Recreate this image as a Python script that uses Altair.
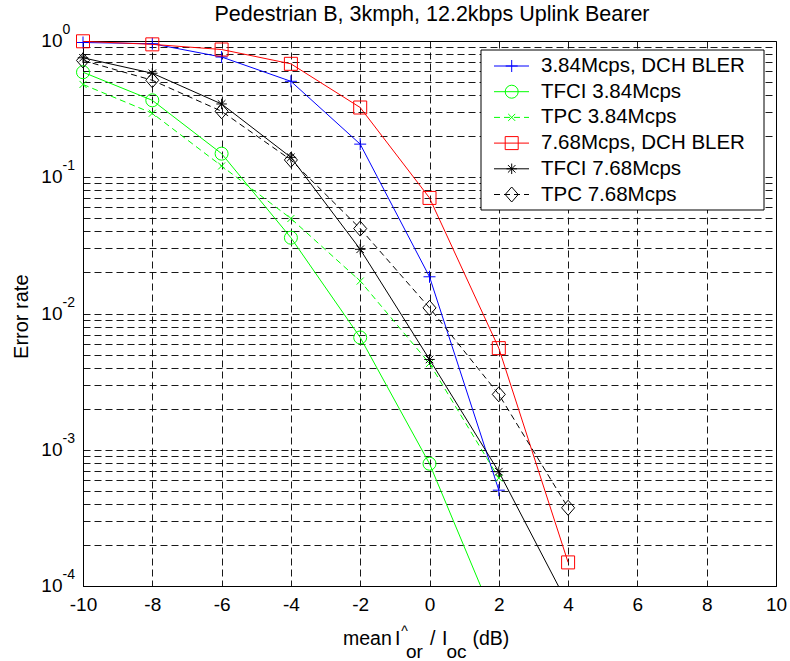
import altair as alt
import pandas as pd

# ---------------- data ----------------
snr_db = [-10, -8, -6, -4, -2, 0, 2, 4]
dch_384 = [0.975, 0.955, 0.763, 0.506, 0.175, 0.0186, 5.05e-4]
tfci_384 = [0.59, 0.367, 0.149, 0.036, 0.00667, 7.9e-4, 4.8e-5]
tpc_384 = [0.48, 0.295, 0.121, 0.0498, 0.0173, 0.0043, 6.2e-4]
dch_768 = [0.995, 0.945, 0.866, 0.68, 0.325, 0.0705, 0.00557, 1.49e-4]
tfci_768 = [0.753, 0.58, 0.345, 0.14, 0.0296, 0.0046, 6.9e-4, 7.3e-5]
tpc_768 = [0.72, 0.515, 0.305, 0.134, 0.042, 0.011, 0.00255, 3.75e-4]

series_labels = ["3.84Mcps, DCH BLER", "TFCI 3.84Mcps", "TPC 3.84Mcps",
                 "7.68Mcps, DCH BLER", "TFCI 7.68Mcps", "TPC 7.68Mcps"]
x_ticks = [-10, -8, -6, -4, -2, 0, 2, 4, 6, 8, 10]
y_decades = [0, -1, -2, -3, -4]
title_text = "Pedestrian B, 3kmph, 12.2kbps Uplink Bearer"
y_title = "Error rate"

# ---------------- styles ----------------
FONT = "Liberation Sans"
W, H = 693, 545
PLUS = "M-1,0L1,0M0,-1L0,1"
XMARK = "M-1,-1L1,1M-1,1L1,-1"
STAR = "M-1,0L1,0M0,-1L0,1M-0.72,-0.72L0.72,0.72M-0.72,0.72L0.72,-0.72"
DIAMOND = "M0,-1L0.87,0L0,1L-0.87,0Z"
DASH = [6, 4]
GRID_DASH = [7, 4]

all_series = [dch_384, tfci_384, tpc_384, dch_768, tfci_768, tpc_768]
styles = [
    dict(color="#0000ff", dash=None, shape=PLUS, size=144),
    dict(color="#00ff00", dash=None, shape="circle", size=169),
    dict(color="#00ff00", dash=DASH, shape=XMARK, size=49),
    dict(color="#ff0000", dash=None, shape="square", size=169),
    dict(color="#000000", dash=None, shape=STAR, size=110),
    dict(color="#000000", dash=DASH, shape=DIAMOND, size=225),
]

grid_vals = [1.0]
for d in [-1, -2, -3, -4]:
    for k in range(1, 10):
        grid_vals.append(k * 10.0 ** d)

xs = alt.Scale(domain=[-10, 10], nice=False, zero=False)
ys = alt.Scale(type="log", domain=[1e-4, 1], nice=False)
xaxis = alt.Axis(values=x_ticks, title=None, grid=True, ticks=False, tickSize=0,
                 labelExpr="'' + datum.value",
                 labelFontSize=19, labelFont=FONT, labelColor="black",
                 labelPadding=9, labelFlush=False, domainColor="black",
                 gridColor="black", gridDash=GRID_DASH, gridWidth=1, gridOpacity=0.9)
yaxis = alt.Axis(values=grid_vals, title=None, grid=True, ticks=False, tickSize=0,
                 labels=False, domainColor="black",
                 gridColor="black", gridDash=GRID_DASH, gridWidth=1, gridOpacity=0.9)


def X(field="x:Q"):
    return alt.X(field, scale=xs, axis=xaxis)


def Y(field="v:Q"):
    return alt.Y(field, scale=ys, axis=yaxis)


layers = []
for vals, st in zip(all_series, styles):
    df = pd.DataFrame({"x": snr_db[:len(vals)], "v": vals})
    line_kw = dict(color=st["color"], strokeWidth=1, clip=True)
    if st["dash"]:
        line_kw["strokeDash"] = st["dash"]
    layers.append(alt.Chart(df).mark_line(**line_kw).encode(x=X(), y=Y()))
    layers.append(
        alt.Chart(df).transform_filter("datum.v >= 0.0001")
        .mark_point(shape=st["shape"], size=st["size"], filled=False,
                    color=st["color"], strokeWidth=1, opacity=1)
        .encode(x=X(), y=Y())
    )

# y tick labels as 10 with superscript exponent
dec_df = pd.DataFrame({"v": [10.0 ** d for d in y_decades],
                       "exp": [str(d) for d in y_decades]})
layers.append(alt.Chart(dec_df).mark_text(align="right", baseline="middle", font=FONT,
                                          fontSize=19, color="black")
              .encode(x=alt.value(-20.5), y=Y(), text=alt.value("10")))
layers.append(alt.Chart(dec_df).mark_text(align="left", baseline="alphabetic", font=FONT,
                                          fontSize=14, color="black", dy=-7)
              .encode(x=alt.value(-20.5), y=Y(), text="exp:N"))

one = pd.DataFrame({"k": [0]})


def txt(s, x, y, size=20, align="left", baseline="alphabetic", angle=0):
    kw = dict(align=align, baseline=baseline, font=FONT, fontSize=size, color="black")
    if angle:
        kw["angle"] = angle
    return alt.Chart(one).mark_text(**kw).encode(x=alt.value(x), y=alt.value(y),
                                                 text=alt.value(s))


# title and axis titles
layers.append(txt(title_text, 349, -20.3, size=21.5, align="center"))
layers.append(txt(y_title, -54.7, 275.7, size=20, align="center", angle=270))
layers.append(txt("mean", 260, 604, size=19.5))
layers.append(txt("I", 312, 604, size=19.5))
layers.append(txt("^", 321.5, 595, size=14, align="center"))
layers.append(txt("or", 323, 617, size=19))
layers.append(txt("/", 347, 604, size=19.5))
layers.append(txt("I", 359, 604, size=19.5))
layers.append(txt("oc", 363.5, 617, size=19))
layers.append(txt("(dB)", 389.5, 604, size=19.5))

# manual legend
LX0, LX1, LY0, LY1 = 398, 681, 9, 169
layers.append(alt.Chart(one).mark_rect(fill="white", stroke="black", strokeWidth=1)
              .encode(x=alt.value(LX0), x2=alt.value(LX1), y=alt.value(LY0), y2=alt.value(LY1)))
for i, (lab, st) in enumerate(zip(series_labels, styles)):
    ry = 25 + 25.7 * i
    rule_kw = dict(color=st["color"], strokeWidth=1)
    if st["dash"]:
        rule_kw["strokeDash"] = st["dash"]
    layers.append(alt.Chart(one).mark_rule(**rule_kw)
                  .encode(x=alt.value(411), x2=alt.value(446), y=alt.value(ry)))
    layers.append(alt.Chart(one).mark_point(shape=st["shape"], size=st["size"], filled=False,
                                            color=st["color"], strokeWidth=1, opacity=1)
                  .encode(x=alt.value(428.7), y=alt.value(ry)))
    layers.append(txt(lab, 458, ry, size=20.5, baseline="middle"))

chart = alt.layer(*layers).properties(
    width=W, height=H,
    autosize=alt.AutoSizeParams(type="none"),
    padding={"left": 83, "top": 41, "right": 14, "bottom": 75},
    background="white",
).configure_view(stroke="black", strokeWidth=1)

chart.save("out.html", embed_options={"renderer": "svg", "actions": False})
